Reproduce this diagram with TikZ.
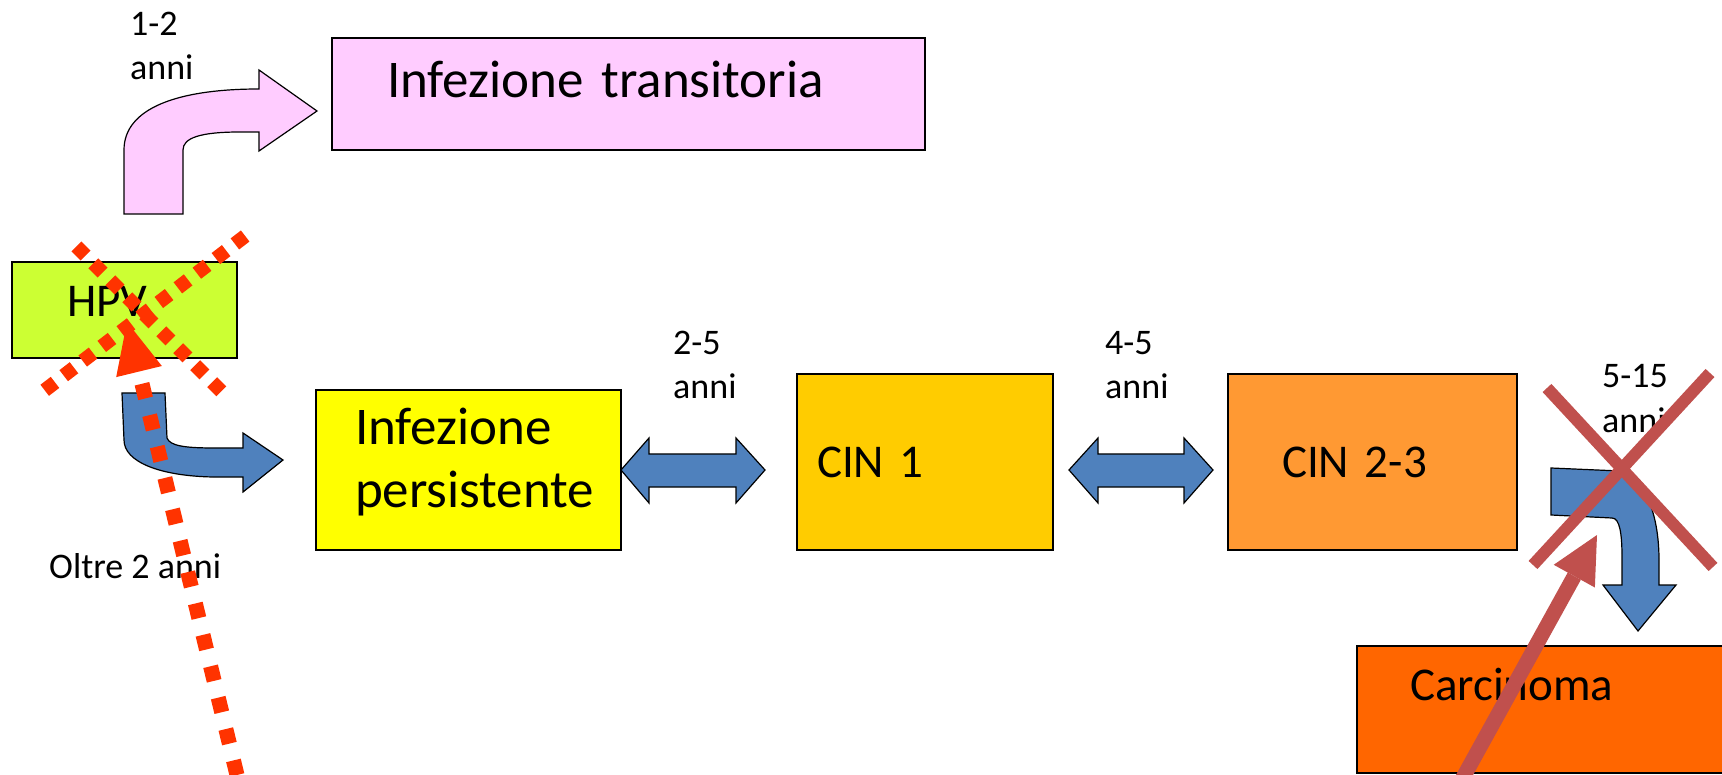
\documentclass[tikz,border=0pt]{standalone}
\usepackage{fontspec}
\setmainfont{Carlito}
\usetikzlibrary{arrows.meta}
\definecolor{pinkbox}{HTML}{FFCCFF}
\definecolor{hpvgreen}{HTML}{CCFF33}
\definecolor{persyellow}{HTML}{FFFF00}
\definecolor{cinone}{HTML}{FFCC00}
\definecolor{cintwo}{HTML}{FF9933}
\definecolor{carcorange}{HTML}{FF6600}
\definecolor{arrowblue}{HTML}{4F81BD}
\definecolor{dotred}{HTML}{FF3300}
\definecolor{crossred}{HTML}{C0504D}
\tikzset{
  box/.style={draw=black,line width=1.5pt,anchor=north west,align=left,inner xsep=0pt,inner ysep=0pt,outer sep=0pt},
  big/.style={font=\fontsize{53}{63}\selectfont},
  mid/.style={font=\fontsize{47}{56}\selectfont},
  lbl/.style={font=\fontsize{36}{44}\selectfont,align=left,inner sep=0pt,anchor=base west},
  bent/.style={draw=black,line width=1.2pt,line join=miter},
  dotx/.style={dotred,line width=14pt,dash pattern=on 13pt off 11pt},
  cross/.style={crossred,line width=12pt}
}
\begin{document}
\begin{tikzpicture}
  [x=1pt,y=-1pt]
\useasboundingbox (0,0) rectangle (1722,775);
\node (trans)[box,big,fill=pinkbox,text width=593pt,text height=60pt,text depth=52pt] at (332,38) {\hspace*{55pt}Infezione transitoria};
  \node (hpv)[box,mid,fill=hpvgreen,text width=225pt,text height=55pt,text depth=41pt] at (12,262) {\hspace*{55pt}HPV};
  \node (persist)[box,big,fill=persyellow,text width=305pt,text height=55pt,text depth=105pt] at (316,390) {\hspace*{39pt}Infezione\\\hspace*{39pt}persistente};
  \node (cin1)[box,mid,fill=cinone,text width=256pt,text height=103pt,text depth=73pt] at (797,374) {\hspace*{20pt}CIN 1};
  \node (cin23)[box,mid,fill=cintwo,text width=289pt,text height=103pt,text depth=73pt] at (1228,374) {\hspace*{54pt}CIN 2-3};
  \node (carc)[box,mid,fill=carcorange,text width=400pt,text height=54pt,text depth=73pt] at (1357,646) {\hspace*{53pt}Carcinoma};

\node (lab12)[lbl] at (130,80) {1-2\\anni};
  \node (lab25)[lbl] at (673,399) {2-5\\anni};
  \node (lab45)[lbl] at (1105,399) {4-5\\anni};
  \node (lab515)[lbl] at (1602,432) {5-15\\anni};
  \node (laboltre)[lbl] at (49,578) {Oltre 2 anni};

 % bent arrows
 \filldraw [bent,fill=pinkbox] (124,214) -- (124,150) .. controls (124,108) and (178,89) .. (259,89) -- (259,70) -- (317,111) -- (259,151) -- (259,132) -- (240,132) .. controls (200,132) and (183,138) .. (183,150) -- (183,214) -- cycle;
 \filldraw [bent,fill=arrowblue] (122,393) -- (165,393) -- (167,438) .. controls (170,446) and (185,448) .. (215,448) -- (243,448) -- (243,433) -- (283,460) -- (243,492) -- (243,477) -- (213,477) .. controls (160,476) and (124,462) .. (124,440) -- cycle;
 \filldraw [bent,fill=arrowblue] (1551,468) -- (1620,471) .. controls (1648,480) and (1659,520) .. (1659,560) -- (1659,585) -- (1676,585) -- (1638,631) -- (1603,585) -- (1622,585) -- (1622,557) .. controls (1622,535) and (1620,518) .. (1612,518) -- (1551,515) -- cycle;

 % double arrows
 \filldraw [bent,fill=arrowblue] (persist.east) -- ++(28,-32) -- ++(0,16) -- ++(87,0) -- ++(0,-16) -- ++(29,32) -- ++(-29,33) -- ++(0,-16) -- ++(-87,0) -- ++(0,16) -- cycle;
 \filldraw [bent,fill=arrowblue] ([shift={(16,8)}]cin1.east) -- ++(29,-32) -- ++(0,16) -- ++(86,0) -- ++(0,-16) -- ++(29,32) -- ++(-29,33) -- ++(0,-16) -- ++(-86,0) -- ++(0,16) -- cycle;

 % crossings
 \draw [dotx] (76.4,246.4) -- (221.6,391.6);
 \draw [dotx] (245.2,236) -- (43.8,391);
 \coordinate (dotstart) at (237,775);
 \coordinate (dottip) at (127,322);
 \path [dotred,line width=15pt,dash pattern=on 15pt off 17.3pt] (dotstart) edge [-{Triangle[length=51pt,width=47pt,line width=0pt]}] (dottip);

 \draw [cross] (1547,388) -- (1713,567);
 \draw [cross] (1710,373) -- (1533,565);
 \coordinate (carcfoot) at (1459,785);
 \coordinate (crosstip) at (1597,535);
 \path [cross,line width=15pt] (carcfoot) edge [-{Triangle[length=47pt,width=47pt,line width=0pt]}] (crosstip);
;
\end{tikzpicture}
\end{document}
